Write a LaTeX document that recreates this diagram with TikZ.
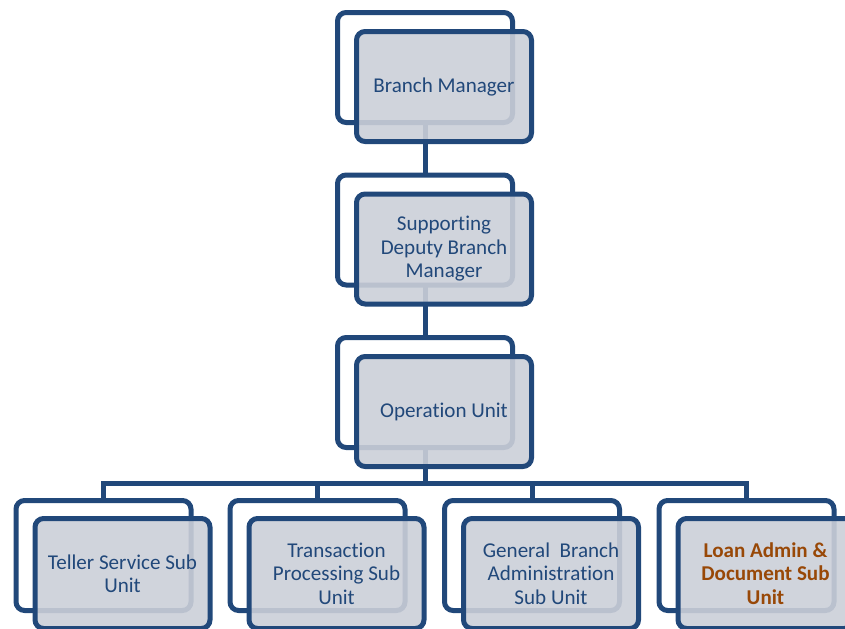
\documentclass[tikz,border=0pt]{standalone}
\usepackage{fontspec}
\setmainfont{Carlito}[Ligatures=NoCommon]
\usepackage{tikz}
\usetikzlibrary{calc}

\definecolor{orgblue}{RGB}{33,72,122}
\definecolor{boxgray}{RGB}{203,207,216}
\definecolor{loanbrown}{RGB}{152,72,7}

\begin{document}
\begin{tikzpicture}[x=0.75pt, y=-0.75pt, every node/.style={font=\fontsize{15.8}{17.6}\selectfont}]
  % -----------------------------
  % SETTINGS
  % -----------------------------
  \def\bw{131.25pt} % box width
  \def\bh{82.5pt}   % box height
  \def\cx{425}      % centre column
  \def\dx{19}       % front box offset
  \def\dy{18}
  \def\busy{483}    % level of the bus line

  \useasboundingbox (0,0) rectangle (845,628);

  % -----------------------------
  % STYLES
  % -----------------------------
  \tikzset{
    back/.style={draw=orgblue, line width=3.75pt, rounded corners=6.5pt,
      minimum width=\bw, minimum height=\bh, inner sep=0pt, outer sep=0pt},
    front/.style={back, fill=boxgray, fill opacity=0.9, text opacity=1,
      text=orgblue, align=center},
    loan/.style={text=loanbrown, font=\fontsize{15.8}{17.6}\selectfont\bfseries},
    link/.style={draw=orgblue, line width=3.75pt},
  }

  % -----------------------------
  % BACK BOXES
  % -----------------------------
  \node[back] (bm) at (\cx,67.5) {};
  \node[back] (sd) at (\cx,230) {};
  \node[back] (ou) at (\cx,392.5) {};

  \node[back] (ts) at (103.5,555.5) {};
  \node[back] (tp) at (317.5,555.5) {};
  \node[back] (ga) at (532,555.5) {};
  \node[back] (la) at (746.5,555.5) {};

  % -----------------------------
  % CONNECTORS
  % -----------------------------
  \draw[link] (bm) -- (sd);
  \draw[link] (sd) -- (ou);
  \coordinate (bus) at (\cx,\busy);
  \foreach \u in {ts,tp,ga,la}
    \draw[link] (ou.south) -- (bus) -| (\u.north);

  % -----------------------------
  % FRONT BOXES + LABELS
  % -----------------------------
  \node[front] (bmF) at ([shift={(\dx,\dy+1)}]bm) {Branch Manager};
  \node[front] (sdF) at ([shift={(\dx,\dy+1)}]sd) {Supporting\\Deputy Branch\\Manager};
  \node[front] (ouF) at ([shift={(\dx,\dy+1)}]ou) {Operation Unit};

  \node[front] (tsF) at ([shift={(\dx,\dy)}]ts) {Teller Service Sub\\Unit};
  \node[front] (tpF) at ([shift={(\dx,\dy)}]tp) {Transaction\\Processing Sub\\Unit};
  \node[front] (gaF) at ([shift={(\dx,\dy)}]ga) {General\ \ Branch\\Administration\\Sub Unit};
  \node[front, loan] (laF) at ([shift={(\dx,\dy)}]la) {Loan Admin \&\\Document Sub\\Unit};
\end{tikzpicture}
\end{document}
